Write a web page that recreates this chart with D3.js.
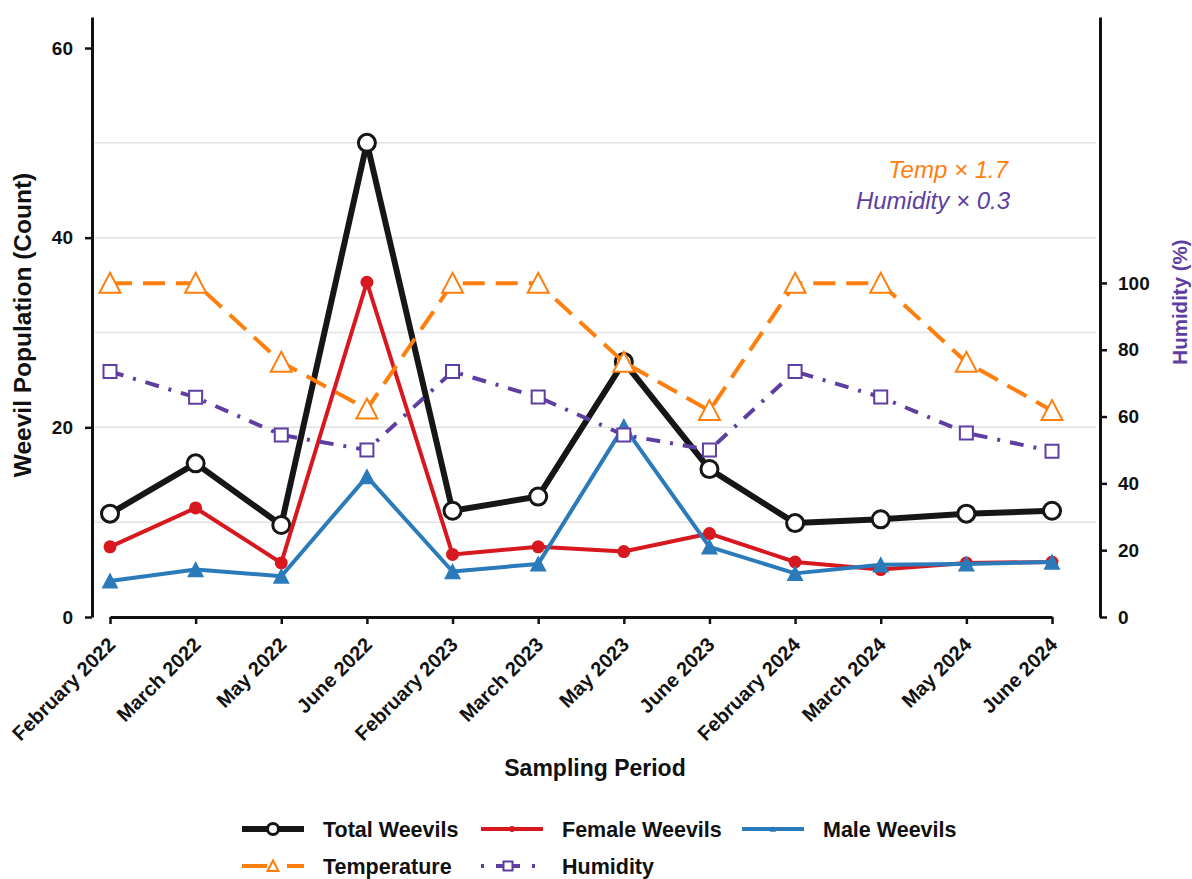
<!DOCTYPE html>
<html>
<head>
<meta charset="utf-8">
<script src="https://cdn.jsdelivr.net/npm/d3@7"></script>
<style>
  body { margin: 0; background: #fff; }
  svg { font-family: "Liberation Sans", Arial, sans-serif; }
</style>
</head>
<body>
<div id="chart"></div>
<script>
// sampling periods and series
let categories = ["February 2022", "March 2022", "May 2022", "June 2022",
    "February 2023", "March 2023", "May 2023", "June 2023",
    "February 2024", "March 2024", "May 2024", "June 2024"];
let totalWeevils = [10.9, 16.2, 9.7, 50, 11.2, 12.7, 26.9, 15.6, 9.9, 10.3, 10.9, 11.2];
let femaleWeevils = [7.4, 11.5, 5.7, 35.3, 6.6, 7.4, 6.9, 8.8, 5.8, 5.0, 5.7, 5.8];
let maleWeevils = [3.8, 5.0, 4.3, 14.8, 4.8, 5.6, 20.1, 7.4, 4.6, 5.5, 5.6, 5.8];
let temperature = [20.7, 20.7, 15.8, 12.9, 20.7, 20.7, 15.8, 12.8, 20.7, 20.7, 15.8, 12.8];
let humidity = [86.3, 77.2, 64.0, 58.7, 86.3, 77.3, 64.0, 58.7, 86.3, 77.3, 64.7, 58.3];
let tempFactor = 1.7;
let humFactor = 0.3;

let leftTicks = [0, 20, 40, 60];
let gridTicks = [10, 20, 30, 40, 50];
let rightTicks = [0, 20, 40, 60, 80, 100];

let width = 1192, height = 879;
let margin = { top: 17, right: 92, bottom: 262, left: 92 };
let w = width - margin.left - margin.right;
let h = height - margin.top - margin.bottom;

let svg = d3.select('#chart').append('svg')
    .attr('width', width)
    .attr('height', height);

let g = svg.append('g').attr('transform', `translate(${margin.left},${margin.top})`);

let x = d3.scalePoint().domain(categories).range([18, 960]);
let y = d3.scaleLinear([0, 63.27], [h, 0]);
let yR = d3.scaleLinear([0, 179.6], [h, 0]);

// grid
g.append('g')
    .selectAll('line')
    .data(gridTicks)
    .join('line')
    .attr('x1', 3).attr('x2', w - 4)
    .attr('y1', d => y(d)).attr('y2', d => y(d))
    .attr('stroke', '#e2e2e2')
    .attr('stroke-width', 1.5);

function styleAxis(sel, size) {
    sel.select('.domain').attr('stroke', '#111').attr('stroke-width', 3);
    sel.selectAll('.tick line').attr('stroke', '#111').attr('stroke-width', 2.5);
    sel.selectAll('.tick text')
        .attr('fill', '#111')
        .attr('font-size', size)
        .attr('font-weight', 'bold');
}

g.append('g')
    .call(d3.axisLeft(y).tickValues(leftTicks).tickFormat(d3.format('d'))
        .tickSize(7).tickSizeOuter(0).tickPadding(12))
    .call(sel => styleAxis(sel, 19));

g.append('g')
    .attr('transform', `translate(${w},0)`)
    .call(d3.axisRight(yR).tickValues(rightTicks).tickFormat(d3.format('d'))
        .tickSize(7).tickSizeOuter(0).tickPadding(11))
    .call(sel => styleAxis(sel, 19));

let xAxis = g.append('g')
    .attr('transform', `translate(0,${h})`)
    .call(d3.axisBottom(x).tickSize(7).tickSizeOuter(0))
    .call(sel => styleAxis(sel, 20));

xAxis.selectAll('.tick text')
    .attr('text-anchor', 'end')
    .attr('dy', 0)
    .attr('y', 0)
    .attr('transform', 'translate(6,29) rotate(-45)');

// lines
let tri = s => `M0,${-s}L${s},${s * 0.9}L${-s},${s * 0.9}Z`;
let sq = s => `M${-s},${-s}H${s}V${s}H${-s}Z`;

let series = [
    { name: 'Total Weevils', values: totalWeevils, scale: 1, color: '#161616', width: 6, dash: null },
    { name: 'Female Weevils', values: femaleWeevils, scale: 1, color: '#d7191f', width: 4, dash: null },
    { name: 'Male Weevils', values: maleWeevils, scale: 1, color: '#2b7bba', width: 4, dash: null },
    { name: 'Temperature', values: temperature, scale: tempFactor, color: '#ff7f0e', width: 4, dash: '22,11' },
    { name: 'Humidity', values: humidity, scale: humFactor, color: '#5e3ea1', width: 4, dash: '14,10,3,10' }
];

let line = d3.line()
    .x((d, i) => x(categories[i]))
    .y(d => y(d));

series.forEach(s => {
    let vals = s.values.map(v => v * s.scale);
    g.append('path')
        .datum(vals)
        .attr('fill', 'none')
        .attr('stroke', s.color)
        .attr('stroke-width', s.width)
        .attr('stroke-linejoin', 'round')
        .attr('stroke-dasharray', s.dash)
        .attr('d', line);
    let m = g.append('g').selectAll('path')
        .data(vals)
        .join('path')
        .attr('transform', (d, i) => `translate(${x(categories[i])},${y(d)})`);
    if (s.name === 'Total Weevils') {
        m.attr('d', d3.symbol(d3.symbolCircle, Math.PI * 8.5 * 8.5)())
            .attr('fill', '#fff').attr('stroke', s.color).attr('stroke-width', 3);
    } else if (s.name === 'Female Weevils') {
        m.attr('d', d3.symbol(d3.symbolCircle, Math.PI * 6.5 * 6.5)())
            .attr('fill', s.color);
    } else if (s.name === 'Male Weevils') {
        m.attr('d', tri(8.5)).attr('fill', s.color);
    } else if (s.name === 'Temperature') {
        m.attr('d', tri(10.5)).attr('fill', '#fff').attr('stroke', s.color).attr('stroke-width', 2);
    } else {
        m.attr('d', sq(6.5)).attr('fill', '#fff').attr('stroke', s.color).attr('stroke-width', 2);
    }
});

// annotations
g.append('text')
    .attr('x', 916).attr('y', 161)
    .attr('text-anchor', 'end')
    .attr('font-size', 24).attr('font-style', 'italic')
    .attr('fill', '#ff7f0e')
    .text('Temp × 1.7');
g.append('text')
    .attr('x', 918).attr('y', 192)
    .attr('text-anchor', 'end')
    .attr('font-size', 24).attr('font-style', 'italic')
    .attr('fill', '#5e3ea1')
    .text('Humidity × 0.3');

// axis titles
svg.append('text')
    .attr('transform', 'translate(31,325) rotate(-90)')
    .attr('text-anchor', 'middle')
    .attr('font-size', 24.5).attr('font-weight', 'bold').attr('fill', '#111')
    .text('Weevil Population (Count)');
svg.append('text')
    .attr('transform', 'translate(1187,302) rotate(-90)')
    .attr('text-anchor', 'middle')
    .attr('font-size', 20.5).attr('font-weight', 'bold').attr('fill', '#5e3ea1')
    .text('Humidity (%)');
svg.append('text')
    .attr('x', 595).attr('y', 776)
    .attr('text-anchor', 'middle')
    .attr('font-size', 23).attr('font-weight', 'bold').attr('fill', '#111')
    .text('Sampling Period');

// legend
let legendItems = [
    { s: series[0], col: 0, row: 0, dash: null },
    { s: series[1], col: 1, row: 0, dash: null },
    { s: series[2], col: 2, row: 0, dash: null },
    { s: series[3], col: 0, row: 1, dash: '25,20,20' },
    { s: series[4], col: 1, row: 1, dash: '3,12,24,12,3' }
];
let colX = [242, 481, 742];
let rowY = [829, 866];

let lg = svg.append('g');
legendItems.forEach(item => {
    let lx = colX[item.col], ly = rowY[item.row];
    let len = item.s.name === 'Humidity' ? 54 : 62;
    let gi = lg.append('g').attr('transform', `translate(${lx},${ly})`);
    gi.append('line')
        .attr('x1', 0).attr('x2', len)
        .attr('stroke', item.s.color)
        .attr('stroke-width', item.s.width)
        .attr('stroke-dasharray', item.dash);
    let mk = gi.append('path').attr('transform', `translate(${len / 2},0)`);
    if (item.s.name === 'Total Weevils') {
        mk.attr('d', d3.symbol(d3.symbolCircle, Math.PI * 5.5 * 5.5)())
            .attr('fill', '#fff').attr('stroke', item.s.color).attr('stroke-width', 3);
    } else if (item.s.name === 'Female Weevils') {
        mk.attr('d', d3.symbol(d3.symbolCircle, Math.PI * 3 * 3)()).attr('fill', item.s.color);
    } else if (item.s.name === 'Male Weevils') {
        mk.attr('d', tri(3)).attr('fill', item.s.color);
    } else if (item.s.name === 'Temperature') {
        mk.attr('d', tri(5.5)).attr('fill', '#fff').attr('stroke', item.s.color).attr('stroke-width', 2);
    } else {
        mk.attr('d', sq(4.5)).attr('fill', '#fff').attr('stroke', item.s.color).attr('stroke-width', 2);
    }
    gi.append('text')
        .attr('x', 81).attr('dy', '0.35em')
        .attr('font-size', 21.5).attr('font-weight', 'bold').attr('fill', '#111')
        .text(item.s.name);
});
</script>
</body>
</html>
